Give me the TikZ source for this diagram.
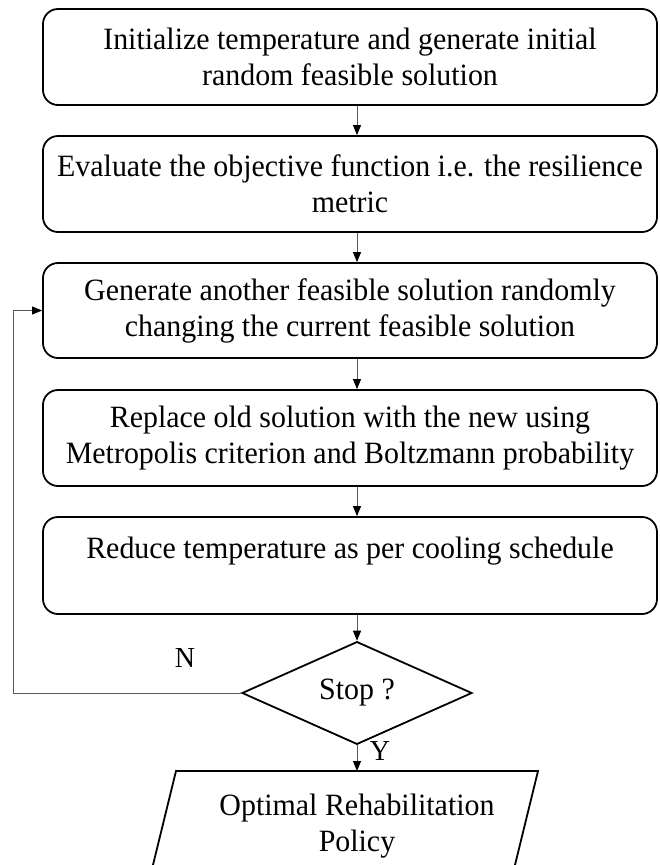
\documentclass[tikz,border=0pt]{standalone}
\usepackage{fontspec}
\setmainfont{Liberation Serif}[FakeStretch=0.965]
\usetikzlibrary{arrows.meta,shapes.geometric}
\begin{document}
\begin{tikzpicture}[x=1pt,y=-1pt,
 box/.style={draw=black,line width=1.8pt,rounded corners=15pt,minimum width=614pt,inner sep=0pt,align=center,font=\fontsize{31}{36}\selectfont},
 arr/.style={draw=black!65,line width=0.9pt,-{Triangle[length=10pt,width=8pt,color=black]}},
 lab/.style={font=\fontsize{29}{34}\selectfont,inner sep=0pt,anchor=base}]
\useasboundingbox (0,0) rectangle (659,865);
\node[box,minimum height=96pt] (b1) at (350,57) {Initialize temperature and generate initial\\random feasible solution};
\node[box,minimum height=96pt] (b2) at (350,184) {Evaluate the objective function i.e. the resilience\\metric};
\node[box,minimum height=95pt] (b3) at (350,310.5) {Generate another feasible solution randomly\\changing the current feasible solution};
\node[box,minimum height=96pt] (b4) at (350,438) {Replace old solution with the new using\\Metropolis criterion and Boltzmann probability};
\node[box,minimum height=97pt] (b5) at (350,565.5) {Reduce temperature as per cooling schedule\\\mbox{}};
\node[draw=black,line width=1.8pt,diamond,minimum width=230pt,minimum height=94pt,inner sep=0pt,font=\fontsize{31}{36}\selectfont] (d) at (357,693) {Stop ?};
\coordinate (ptop) at (357,771);
\coordinate (fbx) at (13,693);
\draw[line width=1.8pt] (149.3,880) -- (176,771) -- (538,771) -- (511.3,880);
\node[align=center,inner sep=0pt,font=\fontsize{31}{36}\selectfont] (o) at (357,826) {Optimal Rehabilitation\\Policy};
\draw[arr] (b1.south -| d.north) -- (b2.north -| d.north);
\draw[arr] (b2.south -| d.north) -- (b3.north -| d.north);
\draw[arr] (b3.south -| d.north) -- (b4.north -| d.north);
\draw[arr] (b4.south -| d.north) -- (b5.north -| d.north);
\draw[arr] (b5.south -| d.north) -- (d.north);
\draw[arr] (d.south) -- (ptop);
\draw[arr] (d.west) -- (fbx) |- (b3.west);
\node[lab] (n) at (185,667) {N};
\node[lab] (y) at (380,760) {Y};
\end{tikzpicture}
\end{document}
